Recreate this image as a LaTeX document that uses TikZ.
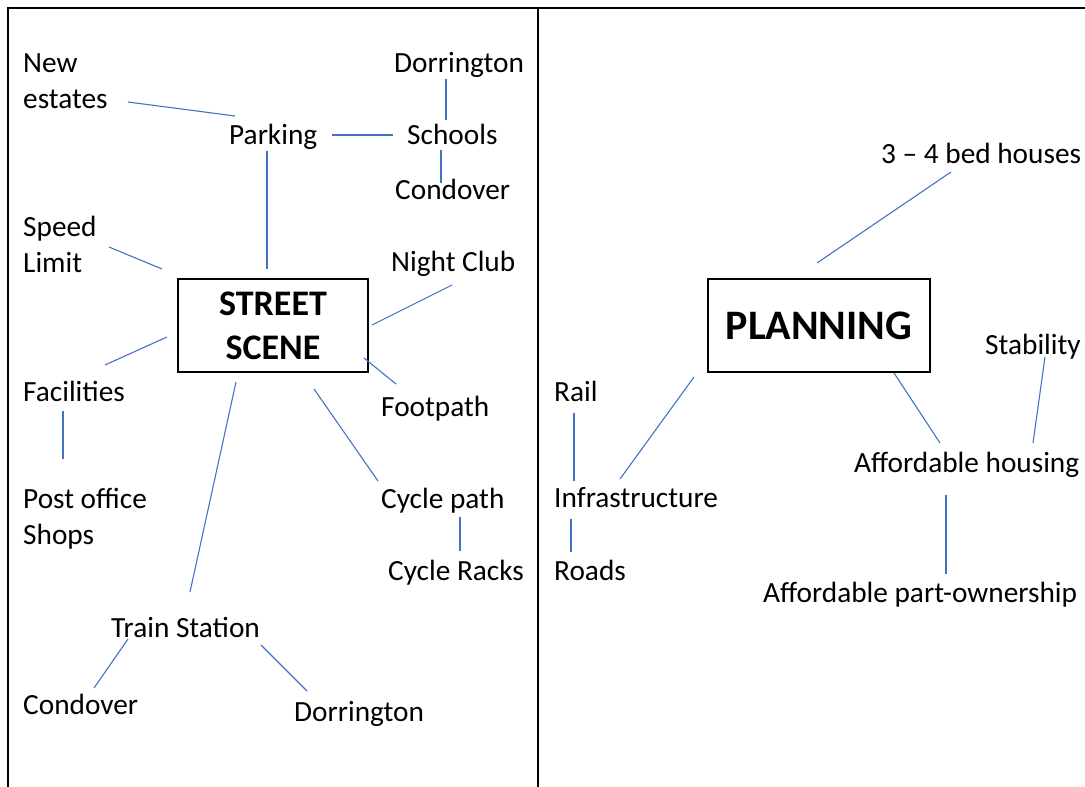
\documentclass[tikz,border=0pt]{standalone}
\usepackage{fontspec}
\setmainfont{Carlito}
\definecolor{linkblue}{HTML}{4472C4}
\begin{document}
\begin{tikzpicture}[x=1pt,y=-1pt,
  lbl/.style={anchor=base west,inner sep=0pt,font=\fontsize{29.3}{36}\selectfont,align=left},
  link/.style={draw=linkblue,line width=1.1pt},
  frameline/.style={line width=2pt},
  hub/.style={draw,line width=1.5pt,inner sep=0pt,align=center},
  hubA/.style={hub,minimum width=190pt,minimum height=93pt,font=\bfseries\fontsize{36}{44}\selectfont},
  hubB/.style={hub,minimum width=222pt,minimum height=93pt,font=\bfseries\fontsize{42}{50}\selectfont}]
\useasboundingbox (0,0) rectangle (1085,787);
% frame
\draw[frameline] (8,787) -- (8,8) -- (1085,8);
\draw[frameline] (538,8) -- (538,787);

% ---- left panel ----
\node[hubA] (street) at (273,325.5) {STREET\\SCENE};
\node[lbl] (newest) at (23,108) {New\\estates};
\node[lbl] (parking) at (229,144) {Parking};
\node[lbl] (dorr1) at (394,72) {Dorrington};
\node[lbl] (schools) at (407,144) {Schools};
\node[lbl] (cond1) at (395,199) {Condover};
\node[lbl] (speed) at (23,272) {Speed\\Limit};
\node[lbl] (night) at (391,271) {Night Club};
\node[lbl] (facil) at (23,401) {Facilities};
\node[lbl] (foot) at (381,416) {Footpath};
\node[lbl] (post) at (23,544) {Post office\\Shops};
\node[lbl] (cycle) at (381,508) {Cycle path};
\node[lbl] (racks) at (388,580) {Cycle Racks};
\node[lbl] (train) at (111,637) {Train Station};
\node[lbl] (cond2) at (23,714) {Condover};
\node[lbl] (dorr2) at (294,721) {Dorrington};

% ---- right panel ----
\node[hubB] (plan) at (819,325.5) {PLANNING};
\node[lbl] (beds) at (881,163) {3 -- 4 bed houses};
\node[lbl] (stab) at (985,354) {Stability};
\node[lbl] (afford) at (854,472) {Affordable housing};
\node[lbl] (part) at (763,602) {Affordable part-ownership};
\node[lbl] (rail) at (554,401) {Rail};
\node[lbl] (infra) at (554,507) {Infrastructure};
\node[lbl] (roads) at (554,580) {Roads};

% connector end points
\coordinate (ne-a) at (128,102);  \coordinate (ne-b) at (235,116);
\coordinate (ps-a) at (332,135);  \coordinate (ps-b) at (393,135);
\coordinate (ds-a) at (446,79);   \coordinate (ds-b) at (446,120);
\coordinate (sc-a) at (441,150);  \coordinate (sc-b) at (441,183);
\coordinate (pb-a) at (267,151);  \coordinate (pb-b) at (267,269);
\coordinate (sl-a) at (109,247);  \coordinate (sl-b) at (162,269);
\coordinate (nc-a) at (452,285);  \coordinate (nc-b) at (372,325);
\coordinate (fa-a) at (105,365);  \coordinate (fa-b) at (167,337);
\coordinate (fp-a) at (364,358);  \coordinate (fp-b) at (396,384);
\coordinate (ts-a) at (236,382);  \coordinate (ts-b) at (190,592);
\coordinate (cp-a) at (314,389);  \coordinate (cp-b) at (378,481);
\coordinate (po-a) at (63,411);   \coordinate (po-b) at (63,459);
\coordinate (cr-a) at (460,517);  \coordinate (cr-b) at (460,551);
\coordinate (tc-a) at (128,639);  \coordinate (tc-b) at (94,688);
\coordinate (td-a) at (261,645);  \coordinate (td-b) at (307,691);
\coordinate (bh-a) at (951,172);  \coordinate (bh-b) at (817,263);
\coordinate (st-a) at (1045,357); \coordinate (st-b) at (1033,443);
\coordinate (ah-a) at (894,373);  \coordinate (ah-b) at (940,443);
\coordinate (ri-a) at (574,413);  \coordinate (ri-b) at (574,481);
\coordinate (in-a) at (694,377);  \coordinate (in-b) at (620,479);
\coordinate (ro-a) at (571,519);  \coordinate (ro-b) at (571,552);
\coordinate (ap-a) at (946,495);  \coordinate (ap-b) at (946,574);

\draw[link] (ne-a) -- (ne-b);
\draw[link] (ps-a) -- (ps-b);
\draw[link] (ds-a) -- (ds-b);
\draw[link] (sc-a) -- (sc-b);
\draw[link] (pb-a) -- (pb-b);
\draw[link] (sl-a) -- (sl-b);
\draw[link] (nc-a) -- (nc-b);
\draw[link] (fa-a) -- (fa-b);
\draw[link] (fp-a) -- (fp-b);
\draw[link] (ts-a) -- (ts-b);
\draw[link] (cp-a) -- (cp-b);
\draw[link] (po-a) -- (po-b);
\draw[link] (cr-a) -- (cr-b);
\draw[link] (tc-a) -- (tc-b);
\draw[link] (td-a) -- (td-b);
\draw[link] (bh-a) -- (bh-b);
\draw[link] (st-a) -- (st-b);
\draw[link] (ah-a) -- (ah-b);
\draw[link] (ri-a) -- (ri-b);
\draw[link] (in-a) -- (in-b);
\draw[link] (ro-a) -- (ro-b);
\draw[link] (ap-a) -- (ap-b);
\end{tikzpicture}
\end{document}
